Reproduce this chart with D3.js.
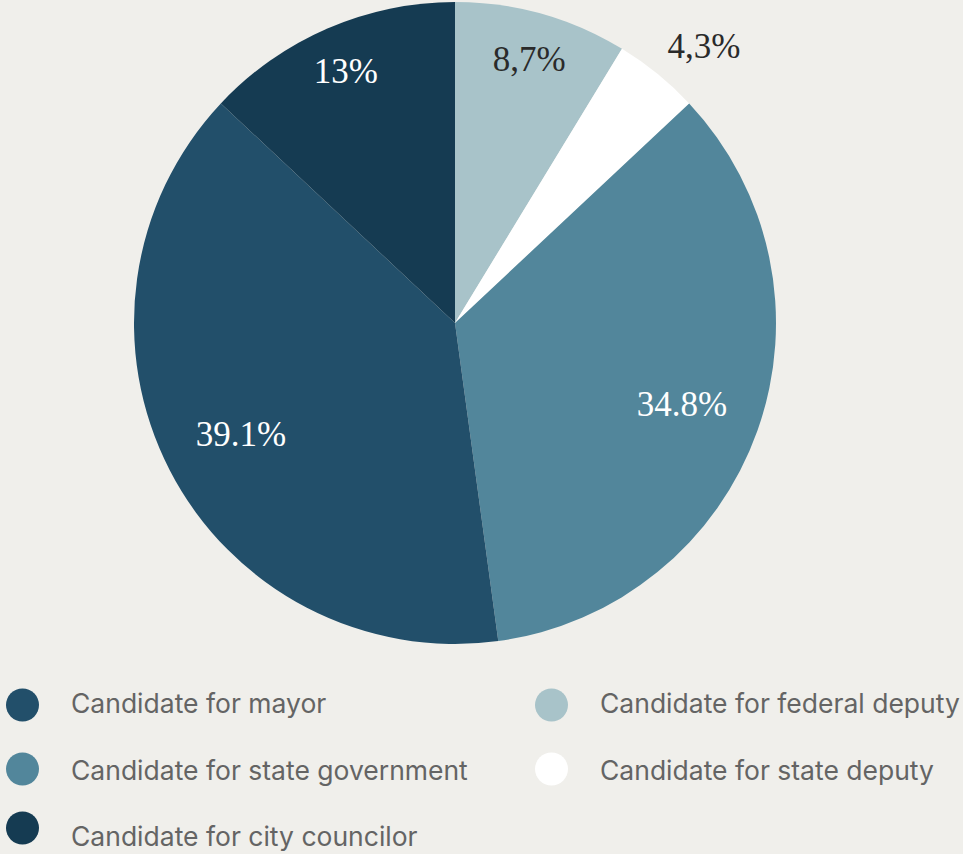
<!DOCTYPE html>
<html lang="en">
<head>
<meta charset="UTF-8">
<title>Candidates pie</title>
<style>
  html, body { margin: 0; padding: 0; background: #f0efeb; overflow: hidden; }
  svg { display: block; }
</style>
</head>
<body>
<script src="https://cdn.jsdelivr.net/npm/d3@7"></script>
<script>
// slices in drawing order, clockwise from 12 o'clock
const categories = [
  'Candidate for federal deputy',
  'Candidate for state deputy',
  'Candidate for state government',
  'Candidate for mayor',
  'Candidate for city councilor'
]
const values = [8.7, 4.3, 34.8, 39.1, 13]
const labels = ['8,7%', '4,3%', '34.8%', '39.1%', '13%']
const colors = ['#a8c3c9', '#ffffff', '#52869b', '#224f6a', '#153b52']
const labelColors = ['#2a2a2a', '#2a2a2a', '#ffffff', '#ffffff', '#ffffff']

// legend order as shown (two columns)
const legendLeft = ['Candidate for mayor', 'Candidate for state government', 'Candidate for city councilor']
const legendRight = ['Candidate for federal deputy', 'Candidate for state deputy']

const width = 963
const height = 854
const cx = 455, cy = 323, radius = 321

const svg = d3.select('body').append('svg')
  .attr('width', width)
  .attr('height', height)

const pie = d3.pie().sort(null).value(d => d)
const arcs = pie(values)
const arc = d3.arc().innerRadius(0).outerRadius(radius)

const g = svg.append('g').attr('transform', `translate(${cx}, ${cy})`)

g.selectAll('.slice')
  .data(arcs)
  .enter()
  .append('path')
  .attr('class', 'slice')
  .attr('d', arc)
  .attr('fill', (d, i) => colors[i])

// label distance: big slices sit a bit closer, tiny slice goes outside
function labelRadius(d) {
  const share = (d.endAngle - d.startAngle) / (2 * Math.PI)
  if (share < 0.06) return radius * 1.16
  if (share > 0.3) return radius * 0.75
  return radius * 0.855
}

g.selectAll('.label')
  .data(arcs)
  .enter()
  .append('text')
  .attr('class', 'label')
  .attr('transform', d => {
    const share = (d.endAngle - d.startAngle) / (2 * Math.PI)
    const a = (d.startAngle + d.endAngle) / 2 + (share < 0.06 ? 0.05 : 0)
    const r = labelRadius(d)
    return `translate(${Math.sin(a) * r}, ${-Math.cos(a) * r})`
  })
  .attr('text-anchor', 'middle')
  .attr('dy', '0.35em')
  .attr('font-family', '"Liberation Serif", "DejaVu Serif", serif')
  .attr('font-size', 35)
  .attr('fill', (d, i) => labelColors[i])
  .text((d, i) => labels[i])

// legend
const colorOf = name => colors[categories.indexOf(name)]
const circleY = [705, 769, 828]
const textY = [704, 771, 837]

function drawLegend(items, circleX, textX) {
  const lg = svg.append('g')
  items.forEach((name, i) => {
    lg.append('circle')
      .attr('cx', circleX)
      .attr('cy', circleY[i])
      .attr('r', 16.5)
      .attr('fill', colorOf(name))
    lg.append('text')
      .attr('x', textX)
      .attr('y', textY[i])
      .attr('dy', '0.35em')
      .attr('font-family', 'Inter, "Noto Sans", sans-serif')
      .attr('font-size', 26.5)
      .attr('fill', '#646464')
      .text(name)
  })
}

drawLegend(legendLeft, 22.5, 71)
drawLegend(legendRight, 551.5, 600)
</script>
</body>
</html>
